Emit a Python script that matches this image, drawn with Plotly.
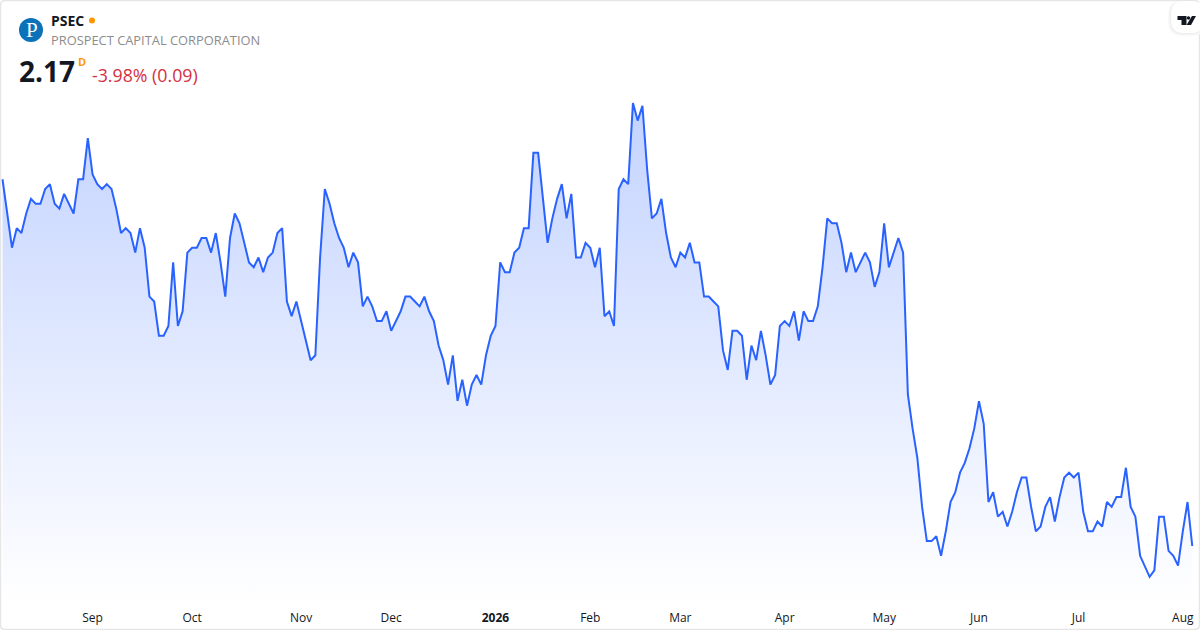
import pandas as pd
import plotly.graph_objects as go

start_date = "2025-08-05"
end_date = "2026-08-05"
market_holidays = ["2025-09-01", "2025-11-27", "2025-12-25", "2026-01-01", "2026-01-19",
                   "2026-02-16", "2026-04-03", "2026-05-25", "2026-06-19", "2026-07-03"]

prices = [
    2.92, 2.85, 2.78, 2.82, 2.81, 2.85, 2.88, 2.87, 2.87, 2.90,
    2.91, 2.87, 2.86, 2.89, 2.87, 2.85, 2.92, 2.92, 3.004, 2.93,
    2.91, 2.90, 2.91, 2.90, 2.86, 2.81, 2.82, 2.81, 2.77, 2.82,
    2.78, 2.68, 2.67, 2.60, 2.60, 2.62, 2.75, 2.62, 2.65, 2.77,
    2.78, 2.78, 2.80, 2.80, 2.77, 2.81, 2.75, 2.68, 2.80, 2.85,
    2.83, 2.79, 2.75, 2.74, 2.76, 2.73, 2.76, 2.77, 2.81, 2.82,
    2.67, 2.64, 2.67, 2.63, 2.59, 2.55, 2.56, 2.76, 2.90, 2.87,
    2.83, 2.80, 2.78, 2.74, 2.77, 2.75, 2.66, 2.68, 2.66, 2.63,
    2.63, 2.65, 2.61, 2.63, 2.65, 2.68, 2.68, 2.67, 2.66, 2.68,
    2.65, 2.63, 2.58, 2.55, 2.50, 2.56, 2.467, 2.51, 2.457, 2.50,
    2.52, 2.50, 2.56, 2.60, 2.62, 2.75, 2.73, 2.73, 2.77, 2.78,
    2.82, 2.82, 2.974, 2.974, 2.88, 2.79, 2.84, 2.88, 2.91, 2.84,
    2.89, 2.76, 2.76, 2.79, 2.78, 2.74, 2.78, 2.64, 2.65, 2.62,
    2.90, 2.92, 2.91, 3.076, 3.04, 3.07, 2.94, 2.84, 2.85, 2.88,
    2.81, 2.76, 2.74, 2.77, 2.76, 2.79, 2.75, 2.75, 2.68, 2.68,
    2.67, 2.66, 2.57, 2.53, 2.61, 2.61, 2.60, 2.51, 2.58, 2.55,
    2.61, 2.56, 2.50, 2.52, 2.62, 2.63, 2.62, 2.65, 2.59, 2.65,
    2.63, 2.63, 2.66, 2.74, 2.84, 2.83, 2.83, 2.79, 2.73, 2.77,
    2.73, 2.75, 2.77, 2.75, 2.70, 2.73, 2.83, 2.74, 2.77, 2.80,
    2.77, 2.48, 2.41, 2.35, 2.25, 2.18, 2.18, 2.19, 2.15, 2.20,
    2.26, 2.28, 2.32, 2.34, 2.37, 2.41, 2.466, 2.42, 2.26, 2.28,
    2.23, 2.24, 2.21, 2.24, 2.28, 2.31, 2.31, 2.25, 2.20, 2.21,
    2.25, 2.27, 2.22, 2.27, 2.31, 2.32, 2.31, 2.32, 2.24, 2.20,
    2.20, 2.22, 2.21, 2.26, 2.25, 2.27, 2.27, 2.33, 2.25, 2.23,
    2.15, 2.13, 2.107, 2.12, 2.23, 2.23, 2.16, 2.15, 2.13, 2.20,
    2.26, 2.17,
]

tick_dates = ["2025-09-02", "2025-10-01", "2025-11-03", "2025-12-01", "2026-01-02", "2026-02-02",
              "2026-03-02", "2026-04-01", "2026-05-01", "2026-06-01", "2026-07-01", "2026-08-03"]
tick_labels = ["Sep", "Oct", "Nov", "Dec", "<b>2026</b>", "Feb",
               "Mar", "Apr", "May", "Jun", "Jul", "Aug"]

W, H, PLOT_H = 1200, 630, 604
FONT = "Open Sans"


# pixel position on the page -> paper coordinates
def fx(x):
    return x / W


def fy(y):
    return (PLOT_H - y) / PLOT_H


def rect_path(x0, y0, x1, y1, r):
    return (f"M {fx(x0 + r)} {fy(y0)} L {fx(x1 - r)} {fy(y0)} Q {fx(x1)} {fy(y0)} {fx(x1)} {fy(y0 + r)} "
            f"L {fx(x1)} {fy(y1 - r)} Q {fx(x1)} {fy(y1)} {fx(x1 - r)} {fy(y1)} "
            f"L {fx(x0 + r)} {fy(y1)} Q {fx(x0)} {fy(y1)} {fx(x0)} {fy(y1 - r)} "
            f"L {fx(x0)} {fy(y0 + r)} Q {fx(x0)} {fy(y0)} {fx(x0 + r)} {fy(y0)} Z")


def poly_path(points):
    return "M " + " L ".join(f"{fx(x)} {fy(y)}" for x, y in points) + " Z"


def label(text, x, y, size, color, bold=False, family=FONT):
    return dict(text=f"<b>{text}</b>" if bold else text, x=fx(x), y=fy(y), xref="paper", yref="paper",
                xanchor="left", yanchor="middle", showarrow=False, borderpad=0,
                font=dict(family=family, size=size, color=color))


dates = [d.strftime("%Y-%m-%d") for d in pd.bdate_range(start_date, end_date)
         if d.strftime("%Y-%m-%d") not in market_holidays]

fig = go.Figure()
fig.add_trace(go.Scatter(
    x=dates, y=prices, mode="lines",
    line=dict(color="#2962ff", width=2, shape="linear"),
    fill="tozeroy",
    fillgradient=dict(type="vertical", start=max(prices), stop=2.0514,
                      colorscale=[[0, "rgba(41,98,255,0.28)"], [1, "rgba(41,98,255,0)"]]),
    hoverinfo="x+y",
))

shapes = [
    # card border
    dict(type="path", xref="paper", yref="paper", path=rect_path(0.5, 0.5, 1199.5, 629.5, 5),
         line=dict(color="#e6e6e6", width=1.5), layer="above"),
    # logo
    dict(type="circle", xref="paper", yref="paper", x0=fx(19), x1=fx(43), y0=fy(42), y1=fy(18),
         fillcolor="#0b72b9", line=dict(width=0)),
    # market status dot
    dict(type="circle", xref="paper", yref="paper", x0=fx(89), x1=fx(95), y0=fy(23.5), y1=fy(17.5),
         fillcolor="#ff9800", line=dict(width=0)),
]
# soft shadow and white pill behind the top right mark
for grow, shade in [(3, "#f9f9fa"), (2, "#f4f4f6"), (1, "#eeeef0")]:
    shapes.append(dict(type="path", xref="paper", yref="paper",
                       path=rect_path(1171 - grow, 1, 1205, 33 + grow, 14),
                       fillcolor=shade, line=dict(width=0), layer="above"))
shapes.append(dict(type="path", xref="paper", yref="paper", path=rect_path(1171, 1, 1205, 33, 13),
                   fillcolor="#ffffff", line=dict(width=0), layer="above"))
# top right mark
for pts in [
    [(1177.5, 16), (1186.5, 16), (1186.5, 25), (1181.5, 25), (1181.5, 20), (1177.5, 20)],
    [(1192, 16), (1196, 16), (1191, 25), (1186.5, 25)],
]:
    shapes.append(dict(type="path", xref="paper", yref="paper", path=poly_path(pts),
                       fillcolor="#131722", line=dict(width=0), layer="above"))
shapes.append(dict(type="circle", xref="paper", yref="paper", x0=fx(1186.7), x1=fx(1190.3), y0=fy(19.8), y1=fy(16.2),
                   fillcolor="#131722", line=dict(width=0), layer="above"))

annotations = [
    label("P", 25, 30, 21, "#ffffff", family="Liberation Serif"),
    label("PSEC", 50, 20.5, 14, "#131722", bold=True),
    label("PROSPECT CAPITAL CORPORATION", 50, 40.5, 12.86, "#8c8c8c"),
    label("2.17", 18, 70.5, 28, "#131722", bold=True),
    label("D", 77, 61.5, 11, "#ff9800", bold=True),
    label("-3.98% (0.09)", 91, 74.5, 17.75, "#d4303f"),
]

fig.update_layout(
    width=W, height=H,
    margin=dict(l=0, r=0, t=0, b=H - PLOT_H, pad=0),
    paper_bgcolor="#ffffff", plot_bgcolor="#ffffff",
    showlegend=False,
    font=dict(family=FONT, size=12, color="#131722"),
    shapes=shapes,
    annotations=annotations,
    xaxis=dict(type="category", tickmode="array", tickvals=tick_dates, ticktext=tick_labels,
               range=[-0.527, 252.63], showgrid=False, zeroline=False, showline=False,
               ticks="outside", ticklen=3, tickcolor="rgba(0,0,0,0)",
               tickangle=0, tickfont=dict(family=FONT, size=12, color="#131722")),
    yaxis=dict(range=[2.0514, 3.2866], showgrid=False, zeroline=False, showline=False,
               showticklabels=False, ticks=""),
)

fig.write_html("out.html", config={"displayModeBar": False},
               post_script="document.body.style.margin='0';")
